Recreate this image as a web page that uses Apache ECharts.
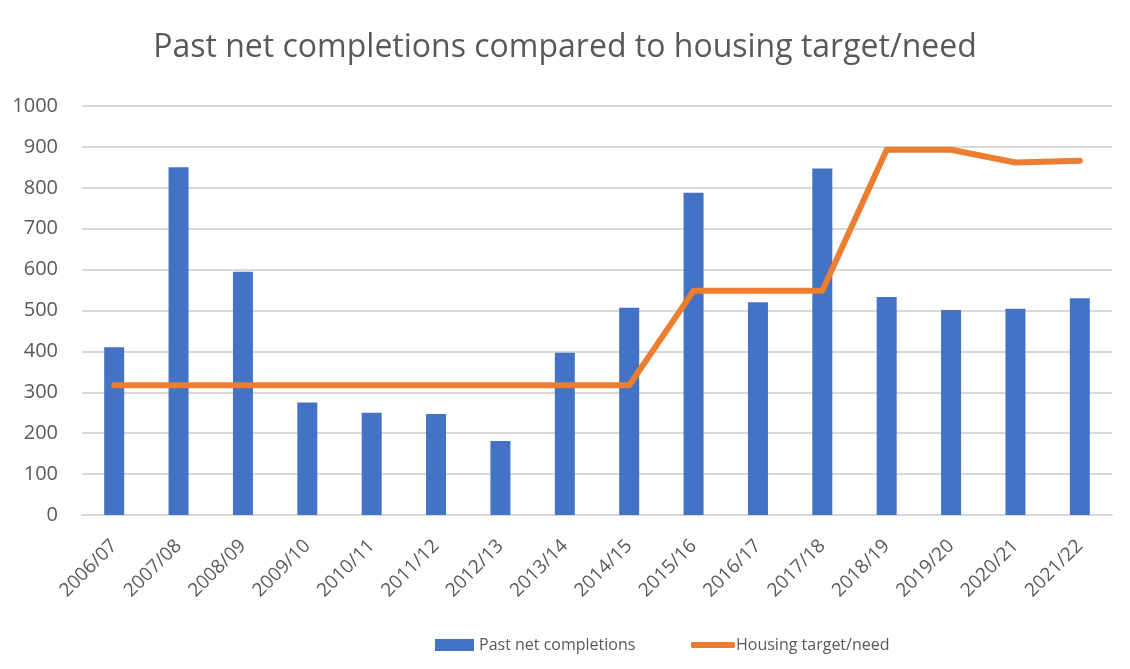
<!DOCTYPE html>
<html><head><meta charset="utf-8">
<script src="https://cdn.jsdelivr.net/npm/echarts@6/dist/echarts.min.js"></script>
<style>html,body{margin:0;padding:0;background:#fff}#c{width:1130px;height:669px}</style>
</head><body><div id="c"></div>
<script>
const categories = ['2006/07','2007/08','2008/09','2009/10','2010/11','2011/12','2012/13','2013/14','2014/15','2015/16','2016/17','2017/18','2018/19','2019/20','2020/21','2021/22'];
const completions = [410, 850, 595, 275, 250, 247, 181, 397, 507, 788, 520, 847, 533, 501, 504, 530];
const target = [317, 317, 317, 317, 317, 317, 317, 317, 317, 548, 548, 548, 893, 893, 862, 866];
const yTicks = [0, 1000, 100];

const chart = echarts.init(document.getElementById('c'));
const font = 'Open Sans';
const grey = '#595959';
chart.setOption({
  animation: false,
  title: {
    text: 'Past net completions compared to housing target/need',
    left: 'center', top: 27,
    textStyle: {fontFamily: font, fontSize: 32, fontWeight: 'normal', color: grey}
  },
  grid: {left: 82, right: 18, top: 106, bottom: 154, containLabel: false},
  legend: [
    {
      top: 632, left: 430, itemWidth: 39, itemHeight: 12, itemGap: 0,
      textStyle: {fontFamily: font, fontSize: 16, color: grey},
      data: [{name: 'Past net completions', icon: 'rect'}]
    },
    {
      top: 632, left: 686, itemWidth: 44, itemHeight: 6, itemGap: 0,
      textStyle: {fontFamily: font, fontSize: 16, color: grey, padding: [0,0,0,-4]},
      data: [{name: 'Housing target/need', icon: 'roundRect'}]
    }
  ],
  xAxis: {
    type: 'category', data: categories,
    axisLine: {lineStyle: {color: '#d9d9d9', width: 2}},
    axisTick: {show: false},
    axisLabel: {rotate: 45, fontFamily: font, fontSize: 19, color: grey, margin: 28, interval: 0}
  },
  yAxis: {
    type: 'value', min: yTicks[0], max: yTicks[1], interval: yTicks[2],
    axisLine: {show: false}, axisTick: {show: false},
    splitLine: {lineStyle: {color: '#d9d9d9', width: 2}},
    axisLabel: {fontFamily: font, fontSize: 20, color: grey, margin: 24, formatter: v => String(v)}
  },
  series: [
    {name: 'Past net completions', type: 'bar', data: completions, barWidth: 20,
     itemStyle: {color: '#4472C4'}},
    {name: 'Housing target/need', type: 'line', data: target, symbol: 'none',
     lineStyle: {color: '#ED7D31', width: 6, cap: 'round', join: 'round'},
     itemStyle: {color: '#ED7D31'}}
  ]
});
</script></body></html>
